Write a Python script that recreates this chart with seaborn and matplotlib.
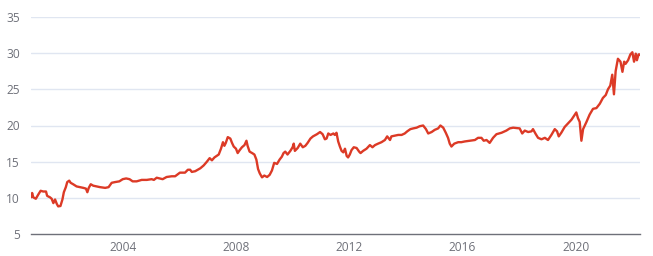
import matplotlib
matplotlib.use("Agg")
import matplotlib.pyplot as plt
import seaborn as sns
import pandas as pd

years = [
    2000.76, 2000.80, 2000.84, 2000.93, 2001.02, 2001.10, 2001.19, 2001.29, 2001.33, 2001.43,
    2001.49, 2001.55, 2001.61, 2001.67, 2001.72, 2001.80, 2001.87, 2001.92, 2001.99, 2002.04,
    2002.11, 2002.16, 2002.25, 2002.37, 2002.49, 2002.61, 2002.70, 2002.75, 2002.80, 2002.87,
    2002.96, 2003.08, 2003.20, 2003.38, 2003.50, 2003.61, 2003.73, 2003.88, 2004.00, 2004.12,
    2004.24, 2004.35, 2004.49, 2004.67, 2004.85, 2005.02, 2005.10, 2005.20, 2005.31, 2005.41,
    2005.55, 2005.73, 2005.85, 2006.02, 2006.20, 2006.30, 2006.38, 2006.44, 2006.56, 2006.74,
    2006.86, 2006.97, 2007.07, 2007.15, 2007.24, 2007.39, 2007.47, 2007.54, 2007.59, 2007.64,
    2007.71, 2007.80, 2007.86, 2007.92, 2008.00, 2008.06, 2008.13, 2008.21, 2008.30, 2008.37,
    2008.41, 2008.48, 2008.57, 2008.65, 2008.72, 2008.78, 2008.84, 2008.92, 2009.00, 2009.10,
    2009.19, 2009.27, 2009.35, 2009.45, 2009.54, 2009.62, 2009.68, 2009.74, 2009.82, 2009.92,
    2010.00, 2010.04, 2010.08, 2010.18, 2010.27, 2010.36, 2010.45, 2010.53, 2010.63, 2010.72,
    2010.86,
    2010.97, 2011.06, 2011.14, 2011.20, 2011.26, 2011.34, 2011.44, 2011.49, 2011.55, 2011.61,
    2011.67, 2011.73, 2011.79, 2011.85, 2011.91, 2011.96, 2012.02, 2012.08, 2012.16, 2012.26,
    2012.35, 2012.40, 2012.49, 2012.61, 2012.73, 2012.82, 2012.91, 2013.02, 2013.14, 2013.26,
    2013.34, 2013.44, 2013.49, 2013.61, 2013.73, 2013.85, 2013.96, 2014.05, 2014.16, 2014.26,
    2014.38, 2014.49, 2014.61, 2014.71, 2014.79, 2014.91, 2015.02, 2015.14, 2015.22, 2015.32,
    2015.41, 2015.49, 2015.55, 2015.61, 2015.71, 2015.85, 2015.96, 2016.08, 2016.26, 2016.44,
    2016.55, 2016.67, 2016.75, 2016.85, 2016.96, 2017.08, 2017.20, 2017.38, 2017.55, 2017.67,
    2017.79, 2018.02, 2018.11, 2018.20, 2018.32, 2018.44, 2018.49, 2018.59, 2018.67, 2018.79,
    2018.91, 2019.02, 2019.14, 2019.26, 2019.34, 2019.40, 2019.49, 2019.61, 2019.73, 2019.85,
    2020.02, 2020.08, 2020.14, 2020.20, 2020.26, 2020.32, 2020.38, 2020.49, 2020.61, 2020.73,
    2020.85, 2020.96, 2021.06, 2021.14, 2021.22, 2021.29, 2021.35, 2021.41, 2021.49, 2021.58,
    2021.65, 2021.71, 2021.76, 2021.85, 2021.93, 2022.00, 2022.06, 2022.12, 2022.16, 2022.22,
    2022.26,
]

values = [
    10.1, 10.7, 10.1, 9.9, 10.5, 11.0, 10.9, 10.9, 10.3, 10.1,
    9.9, 9.3, 9.8, 9.2, 8.85, 8.9, 9.8, 10.8, 11.5, 12.2,
    12.4, 12.1, 11.9, 11.6, 11.5, 11.4, 11.3, 10.8, 11.4, 11.9,
    11.7, 11.6, 11.5, 11.4, 11.5, 12.1, 12.2, 12.3, 12.6, 12.7,
    12.6, 12.3, 12.3, 12.5, 12.5, 12.6, 12.5, 12.8, 12.7, 12.6,
    12.9, 13.0, 13.0, 13.5, 13.5, 13.9, 13.9, 13.6, 13.7, 14.1,
    14.5, 15.0, 15.5, 15.2, 15.6, 16.0, 16.8, 17.7, 17.2, 17.6,
    18.4, 18.2, 17.6, 17.1, 16.8, 16.2, 16.6, 17.0, 17.3, 17.9,
    17.2, 16.4, 16.2, 16.0, 15.3, 14.0, 13.4, 12.85, 13.1, 12.9,
    13.2, 13.8, 14.85, 14.7, 15.3, 15.7, 16.2, 16.4, 16.0, 16.5,
    17.0, 17.5, 16.5, 16.9, 17.5, 17.0, 17.2, 17.6, 18.2, 18.5,
    18.8,
    19.1, 18.8, 18.1, 18.2, 18.9, 18.7, 18.9, 18.7, 19.0, 17.8,
    17.1, 16.5, 16.3, 16.8, 15.8, 15.6, 16.0, 16.6, 17.0, 16.9,
    16.4, 16.2, 16.5, 16.8, 17.3, 17.0, 17.3, 17.5, 17.7, 18.0,
    18.5, 18.0, 18.5, 18.6, 18.7, 18.7, 18.9, 19.2, 19.5, 19.6,
    19.7, 19.9, 20.0, 19.5, 18.9, 19.1, 19.4, 19.6, 20.0, 19.7,
    19.0, 18.3, 17.5, 17.1, 17.5, 17.7, 17.7, 17.8, 17.9, 18.0,
    18.3, 18.3, 17.9, 18.0, 17.6, 18.3, 18.8, 19.0, 19.3, 19.6,
    19.7, 19.6, 18.9, 19.3, 19.1, 19.2, 19.5, 18.8, 18.3, 18.1,
    18.3, 18.0, 18.7, 19.5, 19.2, 18.5, 19.0, 19.8, 20.3, 20.8,
    21.8, 21.0, 20.5, 17.9, 19.5, 20.0, 20.5, 21.5, 22.3, 22.4,
    23.0, 23.8, 24.2, 25.0, 25.5, 27.0, 24.3, 27.5, 29.2, 28.8,
    27.4, 28.8, 28.5, 29.0, 29.8, 30.1, 28.8, 29.9, 29.0, 29.8,
    29.8,
]

y_ticks = [5, 10, 15, 20, 25, 30, 35]
x_ticks = [2004, 2008, 2012, 2016, 2020]
x_tick_labels = ["2004", "2008", "2012", "2016", "2020"]

df = pd.DataFrame({"year": years, "value": values})

sns.set_theme(style="white")
plt.rcParams["font.family"] = ["Open Sans", "DejaVu Sans"]

fig = plt.figure(figsize=(6.53, 2.56), dpi=100)
ax = fig.add_axes([31 / 653, 21.7 / 256, 609 / 653, 217.6 / 256])

sns.lineplot(data=df, x="year", y="value", ax=ax, color="#dc3a26", linewidth=1.7)

ax.set_xlim(2000.76, 2022.27)
ax.set_ylim(5, 35)
ax.set_yticks(y_ticks)
ax.set_xticks(x_ticks)
ax.set_xticklabels(x_tick_labels)
ax.set_xlabel("")
ax.set_ylabel("")

for y in y_ticks[1:]:
    ax.axhline(y, color="#e0e6f1", linewidth=1, zorder=0)

for side in ["top", "right", "left"]:
    ax.spines[side].set_visible(False)
ax.spines["bottom"].set_color("#6e7079")
ax.spines["bottom"].set_linewidth(1)

ax.tick_params(axis="both", length=0, labelsize=8.6, labelcolor="#6e7079")
ax.tick_params(axis="y", pad=8)
ax.tick_params(axis="x", pad=5)

fig.savefig("out.png", dpi=100)
